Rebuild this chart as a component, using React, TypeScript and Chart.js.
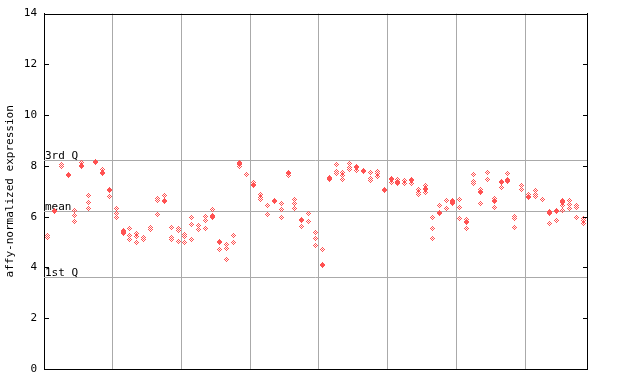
import React, { useEffect, useRef } from "react";
import { Chart, registerables } from "chart.js";

Chart.register(...registerables);

// ---- data ----
const CATEGORY_COUNT = 79;
const gridBoundaries = [10, 20, 30, 40, 50, 60, 70];
const yMin = 0;
const yMax = 14;
const yStep = 2;
const yTitle = "affy-normalized expression";

const quantileLabels = ["3rd Q", "mean", "1st Q"];
const quantileValues = [8.23, 6.23, 3.62];

// hollow (single) samples per column
const hollowValues: number[][] = [
  [5.27, 5.17], [], [8.07, 7.97], [], [6.23, 6.06, 5.8], [8.15], [6.82, 6.55, 6.34], [], [7.87], [6.78],
  [6.34, 6.14, 5.97], [5.45, 5.32], [5.55, 5.25, 5.09], [5.35, 5.23, 4.98], [5.18, 5.11], [5.57, 5.51], [6.73, 6.64, 6.07], [6.82], [5.59, 5.19, 5.11], [5.52, 5.45, 5.04],
  [5.31, 5.22, 5.0], [5.98, 5.71, 5.11], [5.67, 5.48], [6.01, 5.84, 5.52], [6.27, 6.05], [4.69], [4.92, 4.76, 4.3], [5.25, 5.0], [8.15, 7.96], [7.68],
  [7.36], [6.89, 6.77, 6.66], [6.45, 6.1], [6.64, 6.59], [6.51, 6.3, 5.98], [7.64], [6.69, 6.5, 6.34], [5.63], [6.14, 5.8], [5.39, 5.15, 4.88],
  [4.69], [7.45], [8.04, 7.78, 7.72], [7.76, 7.64, 7.46], [8.11, 7.95, 7.85], [7.82], [], [7.75, 7.52, 7.43], [7.78, 7.69, 7.58], [],
  [7.36], [7.45, 7.32], [7.41, 7.32], [7.32], [7.06, 6.97, 6.89], [7.22, 6.97], [5.98, 5.55, 5.15], [6.45], [6.63, 6.34], [6.62, 6.5],
  [6.66, 6.38, 5.94], [5.88, 5.53], [7.65, 7.39, 7.3], [7.08, 6.5], [7.74, 7.45], [6.71, 6.38], [7.13], [7.72, 7.4], [6.01, 5.94, 5.59], [7.22, 7.08],
  [6.86], [7.03, 6.89, 6.8], [6.69], [6.2, 5.72], [5.84], [6.63, 6.44, 6.23], [6.63, 6.47, 6.34], [6.44, 6.38, 5.98], [5.94, 5.84, 5.75],
];

// overlapping (solid-looking) samples per column
const solidValues: number[][] = [
  [], [6.24], [], [7.66], [], [7.98], [], [8.16], [7.74], [7.07],
  [], [5.39], [], [], [], [], [], [6.6], [], [],
  [], [], [], [], [5.97], [5.02], [], [], [8.06], [],
  [7.24], [], [], [], [], [7.72], [], [5.85], [], [],
  [4.1], [7.52], [], [], [], [7.95], [7.78], [], [], [7.06],
  [7.49], [7.38], [], [7.43], [], [7.08], [], [6.16], [], [6.56],
  [], [5.8], [], [6.99], [], [6.6], [7.35], [7.45], [], [],
  [6.77], [], [], [6.16], [6.22], [6.56], [], [], [],
];

// ---- styles ----
const RED = "#ff5252";
const GRID = "#aaaaaa";
const FONT_FAMILY = "'DejaVu Sans Mono', 'Liberation Mono', monospace";
const FONT_SIZE = 11;

function toPoints(cols: number[][]) {
  const pts: { x: number; y: number }[] = [];
  cols.forEach((vals, i) => vals.forEach((v) => pts.push({ x: i + 0.5, y: v })));
  return pts;
}

function makeDiamond(solid: boolean): HTMLCanvasElement {
  const c = document.createElement("canvas");
  const w = 5;
  const h = solid ? 6 : 5;
  c.width = w;
  c.height = h;
  const g = c.getContext("2d")!;
  g.fillStyle = RED;
  const inA = (x: number, y: number) =>
    y >= 0 && y < 5 && Math.abs(x - 2) + Math.abs(y - 2) <= 2 && (x + y) % 2 === 0;
  for (let y = 0; y < h; y++) {
    for (let x = 0; x < w; x++) {
      const on = solid ? inA(x, y) || inA(x, y - 1) : inA(x, y);
      if (on) g.fillRect(x, y, 1, 1);
    }
  }
  return c;
}

const overlayPlugin = {
  id: "overlay",
  beforeDatasetsDraw(chart: any) {
    const { ctx, chartArea: a, scales } = chart;
    const y = scales.y;
    ctx.save();
    ctx.strokeStyle = GRID;
    ctx.lineWidth = 1;
    ctx.fillStyle = "#000";
    ctx.font = `${FONT_SIZE}px ${FONT_FAMILY}`;
    ctx.textAlign = "left";
    ctx.textBaseline = "alphabetic";
    quantileValues.forEach((v, i) => {
      const py = Math.round(y.getPixelForValue(v)) + 0.5;
      ctx.beginPath();
      ctx.moveTo(a.left, py);
      ctx.lineTo(a.right, py);
      ctx.stroke();
      ctx.fillText(quantileLabels[i], a.left + 1, py - 1.5);
    });
    ctx.restore();
    ctx.imageSmoothingEnabled = false;
  },
  afterDatasetsDraw(chart: any) {
    chart.ctx.imageSmoothingEnabled = true;
  },
  afterDraw(chart: any) {
    const { ctx, chartArea: a, scales } = chart;
    const y = scales.y;
    ctx.save();
    ctx.strokeStyle = "#000";
    ctx.lineWidth = 1;
    ctx.beginPath();
    const top = Math.round(a.top) + 0.5;
    ctx.moveTo(Math.round(a.left), top);
    ctx.lineTo(Math.round(a.right) + 1, top);
    for (let v = yMin; v <= yMax; v += yStep) {
      const py = Math.round(y.getPixelForValue(v)) + 0.5;
      ctx.moveTo(Math.round(a.left), py);
      ctx.lineTo(Math.round(a.left) + 5, py);
      ctx.moveTo(Math.round(a.right) - 4, py);
      ctx.lineTo(Math.round(a.right) + 1, py);
    }
    ctx.stroke();
    ctx.restore();
  },
};

export default function App() {
  const ref = useRef<HTMLCanvasElement>(null);
  useEffect(() => {
    document.body.style.margin = "0";
    const canvas = ref.current!;
    const hollowImg = makeDiamond(false);
    const solidImg = makeDiamond(true);
    const chart = new Chart(canvas, {
      type: "scatter",
      data: {
        datasets: [
          {
            data: toPoints(hollowValues),
            pointStyle: hollowImg as any,
            pointRadius: 3,
            showLine: false,
          },
          {
            data: toPoints(solidValues),
            pointStyle: solidImg as any,
            pointRadius: 3,
            showLine: false,
          },
        ],
      },
      options: {
        animation: false,
        responsive: false,
        events: [],
        layout: { padding: { top: 13, left: 0, right: 0, bottom: 0 } },
        plugins: { legend: { display: false }, tooltip: { enabled: false } },
        scales: {
          x: {
            type: "linear",
            min: 0,
            max: CATEGORY_COUNT,
            afterBuildTicks: (s: any) => {
              s.ticks = gridBoundaries.map((v) => ({ value: v }));
            },
            afterFit: (s: any) => {
              s.height = 15;
            },
            ticks: { display: false },
            grid: { display: true, drawOnChartArea: true, drawTicks: false, color: GRID, lineWidth: 1 },
            border: { display: true, color: "#000", width: 1 },
          },
          y: {
            type: "linear",
            position: "left",
            min: yMin,
            max: yMax,
            afterFit: (s: any) => {
              s.width = 44;
            },
            ticks: {
              stepSize: yStep,
              padding: 7,
              color: "#000",
              font: { family: FONT_FAMILY, size: FONT_SIZE },
            },
            grid: { display: true, drawOnChartArea: false, drawTicks: false },
            border: { display: true, color: "#000", width: 1 },
            title: {
              display: true,
              text: yTitle,
              color: "#000",
              font: { family: FONT_FAMILY, size: FONT_SIZE },
              padding: { top: 4, bottom: 4 },
            },
          },
          y2: {
            type: "linear",
            position: "right",
            min: yMin,
            max: yMax,
            afterFit: (s: any) => {
              s.width = 53;
            },
            ticks: { display: false, stepSize: yStep },
            grid: { display: true, drawOnChartArea: false, drawTicks: false },
            border: { display: true, color: "#000", width: 1 },
          },
        },
      },
      plugins: [overlayPlugin],
    });
    return () => chart.destroy();
  }, []);
  return (
    <div style={{ width: 640, height: 384 }}>
      <canvas ref={ref} width={640} height={384} />
    </div>
  );
}
